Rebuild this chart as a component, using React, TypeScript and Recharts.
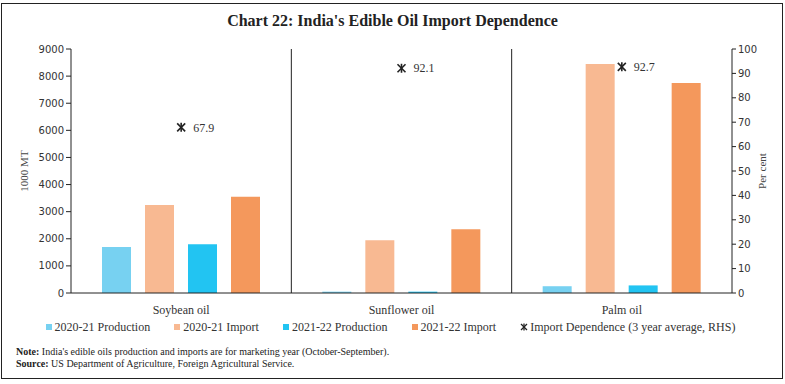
import React from "react";
import {
  ComposedChart,
  Bar,
  Scatter,
  XAxis,
  YAxis,
  CartesianGrid,
  LabelList,
} from "recharts";

const categories = ["Soybean oil", "Sunflower oil", "Palm oil"];
const production2021 = [1700, 50, 250];
const import2021 = [3250, 1950, 8450];
const production2122 = [1800, 50, 280];
const import2122 = [3550, 2350, 7750];
const importDependence = [67.9, 92.1, 92.7];

const leftTicks = [0, 1000, 2000, 3000, 4000, 5000, 6000, 7000, 8000, 9000];
const rightTicks = [0, 10, 20, 30, 40, 50, 60, 70, 80, 90, 100];

const seriesInfo = [
  { key: "p2021", name: "2020-21 Production", color: "#77D1F1" },
  { key: "i2021", name: "2020-21 Import", color: "#F8B992" },
  { key: "p2122", name: "2021-22 Production", color: "#22C4F2" },
  { key: "i2122", name: "2021-22 Import", color: "#F4985C" },
];

const data = categories.map((name, i) => ({
  name,
  p2021: production2021[i],
  i2021: import2021[i],
  p2122: production2122[i],
  i2122: import2122[i],
  dep: importDependence[i],
}));

const serif = "'Liberation Serif', 'DejaVu Serif', serif";
const sans = "'DejaVu Sans', Tahoma, sans-serif";

// Ж-like marker used for the RHS series
function StarMarker(props: any) {
  const { cx, cy } = props;
  const s = 4;
  return (
    <g stroke="#222" strokeWidth={1.6}>
      <line x1={cx - s} y1={cy - s} x2={cx + s} y2={cy + s} />
      <line x1={cx - s} y1={cy + s} x2={cx + s} y2={cy - s} />
      <line x1={cx} y1={cy - s - 0.5} x2={cx} y2={cy + s + 0.5} />
    </g>
  );
}

function DepLabel(props: any) {
  const { x, y, width, height, value } = props;
  const cx = x + (width || 0) / 2;
  const cy = y + (height || 0) / 2;
  return (
    <text x={cx + 12} y={cy} dy="0.35em" fontFamily={serif} fontSize={12} fill="#333">
      {value}
    </text>
  );
}

export default function App() {
  return (
    <div
      style={{
        position: "absolute",
        left: 0,
        top: 0,
        width: 785,
        height: 384,
        background: "#fff",
        fontFamily: serif,
      }}
    >
      <div
        style={{
          position: "absolute",
          left: 1,
          top: 3,
          width: 780,
          height: 374,
          border: "1.5px solid #222",
        }}
      />
      <div
        style={{
          position: "absolute",
          top: 12,
          left: 0,
          width: 785,
          textAlign: "center",
          fontWeight: "bold",
          fontSize: 16,
          color: "#222",
        }}
      >
        Chart 22: India's Edible Oil Import Dependence
      </div>

      <div style={{ position: "absolute", left: 0, top: 0 }}>
        <ComposedChart
          width={785}
          height={320}
          data={data}
          margin={{ top: 49, right: 10, bottom: 0, left: 10 }}
          barSize={29}
          barGap={14}
        >
          <CartesianGrid
            horizontal={false}
            vertical={true}
            stroke="#222"
            strokeWidth={1}
            verticalCoordinatesGenerator={({ offset }: any) => [
              offset.left + offset.width / 3,
              offset.left + (2 * offset.width) / 3,
            ]}
          />
          <XAxis
            dataKey="name"
            axisLine={{ stroke: "#222" }}
            tickLine={false}
            height={27}
            tickMargin={6}
            tick={{ fontFamily: serif, fontSize: 12, fill: "#333" }}
          />
          <YAxis
            yAxisId="left"
            width={61}
            domain={[0, 9000]}
            ticks={leftTicks}
            interval={0}
            axisLine={{ stroke: "#222" }}
            tickLine={{ stroke: "#222" }}
            tickSize={5}
            tick={{ fontFamily: sans, fontSize: 10, fill: "#333" }}
            label={{
              value: "1000 MT",
              angle: -90,
              position: "insideLeft",
              offset: 14,
              style: { fontFamily: serif, fontSize: 11, fill: "#444", textAnchor: "middle" },
            }}
          />
          <YAxis
            yAxisId="right"
            orientation="right"
            width={43}
            domain={[0, 100]}
            ticks={rightTicks}
            interval={0}
            axisLine={{ stroke: "#222" }}
            tickLine={{ stroke: "#222" }}
            tickSize={4}
            tick={{ fontFamily: sans, fontSize: 10, fill: "#333" }}
            label={{
              value: "Per cent",
              angle: -90,
              position: "insideRight",
              offset: 13,
              style: { fontFamily: serif, fontSize: 11, fill: "#444", textAnchor: "middle" },
            }}
          />
          {seriesInfo.map((s) => (
            <Bar
              key={s.key}
              yAxisId="left"
              dataKey={s.key}
              name={s.name}
              fill={s.color}
              isAnimationActive={false}
            />
          ))}
          <Scatter
            yAxisId="right"
            dataKey="dep"
            name="Import Dependence (3 year average, RHS)"
            shape={<StarMarker />}
            isAnimationActive={false}
          >
            <LabelList dataKey="dep" content={<DepLabel />} />
          </Scatter>
        </ComposedChart>
      </div>

      <div
        style={{
          position: "absolute",
          top: 319,
          left: 0,
          width: 781,
          display: "flex",
          justifyContent: "center",
          gap: 24,
          fontSize: 12,
          color: "#333",
          lineHeight: "16px",
        }}
      >
        {seriesInfo.map((s) => (
          <div key={s.key} style={{ display: "flex", alignItems: "center" }}>
            <span
              style={{
                display: "inline-block",
                width: 6,
                height: 6,
                background: s.color,
                marginRight: 3,
              }}
            />
            {s.name}
          </div>
        ))}
        <div style={{ display: "flex", alignItems: "center" }}>
          <svg width={8} height={8} style={{ marginRight: 2 }}>
            <g stroke="#222" strokeWidth={1.3}>
              <line x1={1} y1={1} x2={7} y2={7} />
              <line x1={1} y1={7} x2={7} y2={1} />
              <line x1={4} y1={0.5} x2={4} y2={7.5} />
            </g>
          </svg>
          Import Dependence (3 year average, RHS)
        </div>
      </div>

      <div
        style={{
          position: "absolute",
          left: 16,
          top: 346,
          fontSize: 10,
          lineHeight: "12px",
          color: "#222",
        }}
      >
        <div>
          <b>Note:</b> India's edible oils production and imports are for marketing year
          (October-September).
        </div>
        <div style={{ marginTop: 0 }}>
          <b>Source:</b> US Department of Agriculture, Foreign Agricultural Service.
        </div>
      </div>
    </div>
  );
}
